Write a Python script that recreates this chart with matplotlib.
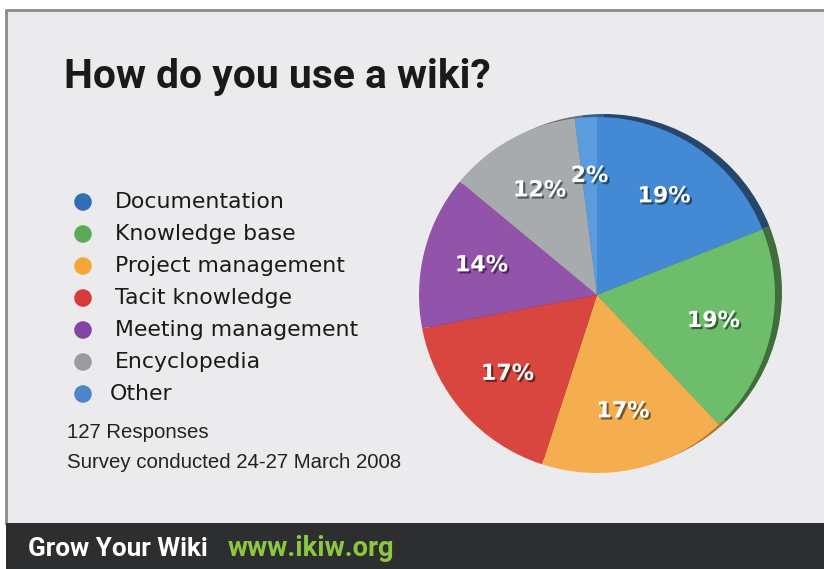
import matplotlib.pyplot as plt
import matplotlib.patheffects as pe
from matplotlib.patches import Rectangle

# --- 資料 ---
類別 = ["Documentation", "Knowledge base", "Project management", "Tacit knowledge",
      "Meeting management", "Encyclopedia", "Other"]
百分比 = [19, 19, 17, 17, 14, 12, 2]
扇形顏色 = ["#4389d3", "#6dbd6b", "#f4ae4f", "#d9453f", "#9253ab", "#a8abad", "#5b9ddc"]
圖例顏色 = ["#2f6fb6", "#5aaa5a", "#f2a73a", "#d63a3a", "#8443a6", "#9a9c9e", "#4a86c9"]
陰影顏色 = ["#27466b", "#3f6e3c", "#a8762f", "#8d2b27", "#5c3370", "#6d6f70", "#365f8c"]

W, H = 824, 569
fig = plt.figure(figsize=(W / 100, H / 100), dpi=100)
fig.patch.set_facecolor("white")
ax = fig.add_axes([0, 0, 1, 1])
ax.set_xlim(0, W)
ax.set_ylim(0, H)
ax.set_aspect("equal")
ax.axis("off")

def y(p):
    # 圖片像素座標 (由上往下) 轉成軸座標
    return H - p

def 調整寬度(t, 目標寬):
    # 依目標像素寬度縮放字級
    r = fig.canvas.get_renderer()
    w = t.get_window_extent(r).width
    t.set_fontsize(t.get_fontsize() * 目標寬 / w)

# 背景與邊框
ax.add_patch(Rectangle((6, y(523)), W, 513, facecolor="#ebebed", edgecolor="none", zorder=0))
ax.plot([6, 6, W], [y(523), y(10), y(10)], color="#8a8a8a", lw=2, zorder=1)
ax.add_patch(Rectangle((6, 0), W, y(523), facecolor="#2d2e30", edgecolor="none", zorder=1))

# 標題
標題 = ax.text(64, y(77), "How do you use a wiki?", fontsize=28, fontweight="bold",
             family=["Roboto", "DejaVu Sans"], color="#1a1a1a",
             va="center", ha="left")
調整寬度(標題, 426)

# 圖例
for i, (名稱, 色) in enumerate(zip(類別, 圖例顏色)):
    py = 202 + i * 32
    ax.scatter([83], [y(py)], s=160, color=色, zorder=3, edgecolors="none")
    ax.text(115 if 名稱 != "Other" else 110, y(py), 名稱, fontsize=15.8,
            family=["DejaVu Sans"], color="#1a1a1a", va="center", ha="left")

註1 = ax.text(67, y(433), "127 Responses", fontsize=11, family=["Liberation Sans"],
             color="#222222", va="center", ha="left")
註2 = ax.text(67, y(462), "Survey conducted 24-27 March 2008", fontsize=11,
             family=["Liberation Sans"], color="#222222", va="center", ha="left")
調整寬度(註2, 335)
註1.set_fontsize(註2.get_fontsize())

# 底部品牌列
品牌 = ax.text(28, y(549), "Grow Your Wiki", fontsize=16, fontweight="bold",
             family=["Roboto", "DejaVu Sans"], color="white", va="center", ha="left")
調整寬度(品牌, 180)
網址 = ax.text(228, y(549), "www.ikiw.org", fontsize=16, fontweight="bold",
             family=["Roboto", "DejaVu Sans"], color="#8dc63f", va="center", ha="left")
調整寬度(網址, 167)

# 圓餅圖 (後方陰影層做出立體邊)
中心 = (597, y(295))
半徑 = 178
ax.pie(百分比, colors=陰影顏色, startangle=90, counterclock=False,
       center=(中心[0] + 7, 中心[1] + 3), radius=半徑, frame=True,
       wedgeprops=dict(linewidth=0))
楔形, 標籤, 百分比文字 = ax.pie(
    百分比, colors=扇形顏色, startangle=90, counterclock=False,
    center=中心, radius=半徑, frame=True,
    autopct=lambda p: f"{p:.0f}%", pctdistance=0.67,
    wedgeprops=dict(linewidth=0),
    textprops=dict(color="white", fontsize=16, fontweight="bold", family=["DejaVu Sans"]))
for t in 百分比文字:
    t.set_path_effects([pe.withSimplePatchShadow(offset=(1.5, -1.5), shadow_rgbFace="black", alpha=0.5)])

ax.set_xlim(0, W)
ax.set_ylim(0, H)
ax.axis("off")

fig.savefig("out.png", dpi=100, facecolor=fig.get_facecolor())
